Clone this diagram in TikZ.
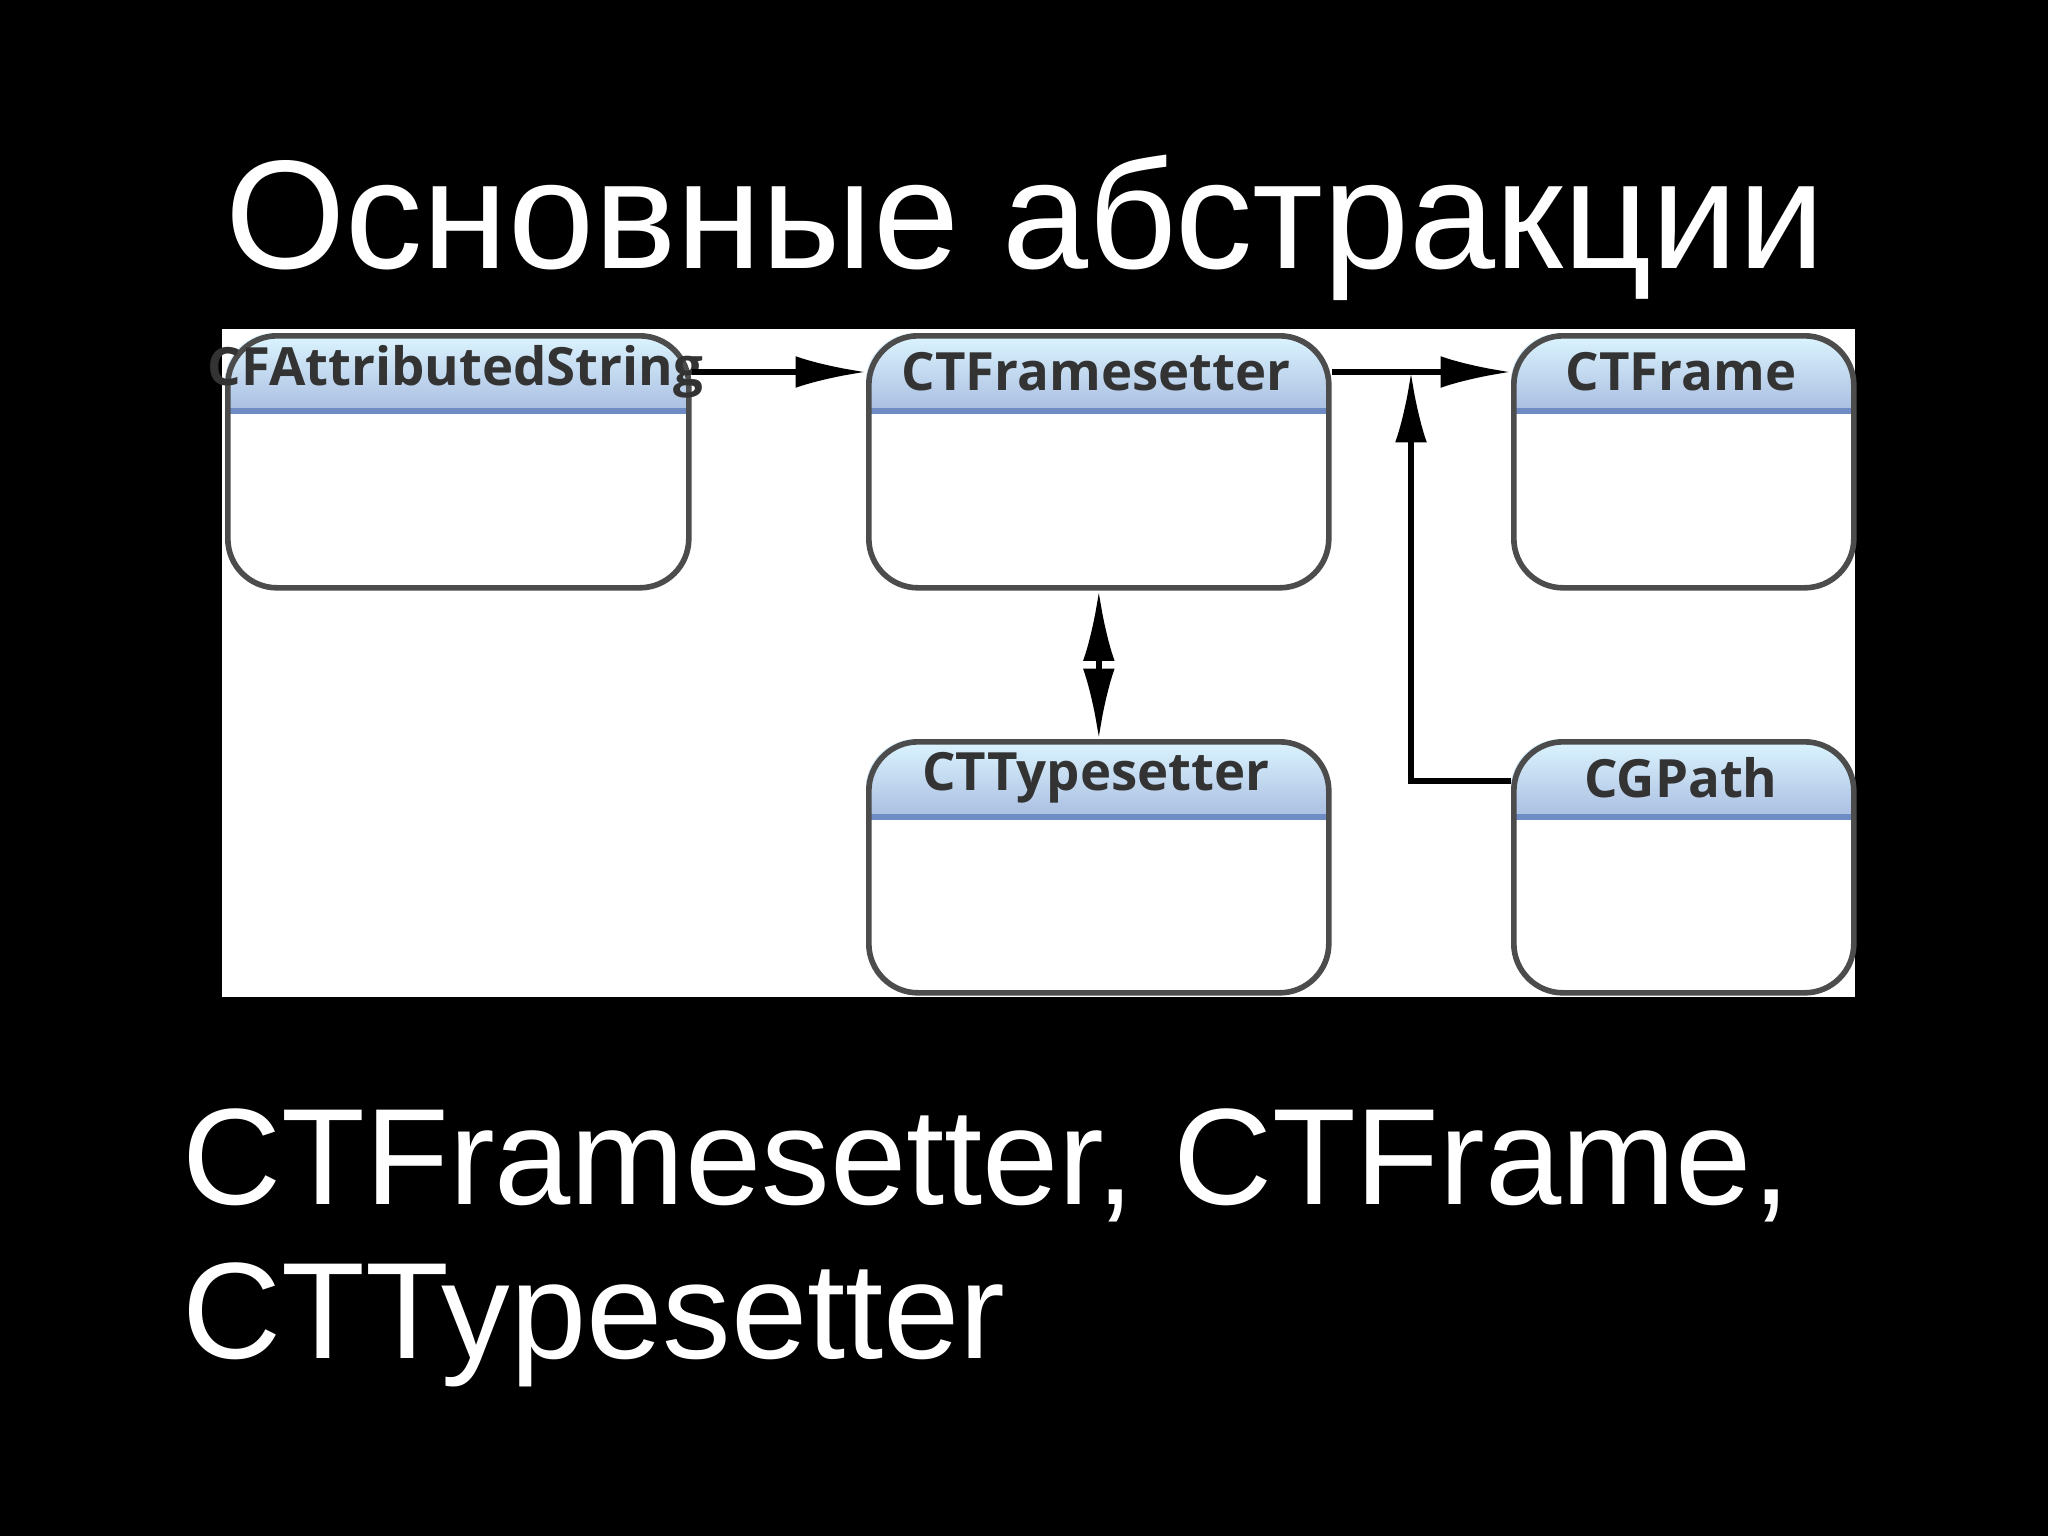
\documentclass[tikz,border=0pt]{standalone}
\usepackage{fontspec}
\setmainfont{Liberation Sans}
\newfontfamily\boxfont{Open Sans}
\usetikzlibrary{arrows.meta}
\tikzset{
  cls/.style={draw=black!70,line width=1.6pt,rounded corners=14pt,inner sep=0pt},
  hdr/.style={top color=blue!4!white!90!cyan,bottom color={rgb,255:red,170;green,190;blue,225}},
  lbl/.style={font=\boxfont\bfseries\fontsize{15}{18}\selectfont,text=black!80},
  conn/.style={line width=1.6pt,-{Latex[length=20pt,width=9pt]}},
  conn2/.style={line width=1.6pt,{Latex[length=20pt,width=9pt]}-{Latex[length=20pt,width=9pt]}},
}
\newcommand{\classbox}[6]{% name, x1, y1, x2, y2, label
  \begin{scope}
    \clip[rounded corners=14pt] (#2,#3) rectangle (#4,#5);
    \shade[hdr] (#2,#3) rectangle (#4,#3+78);
    \draw[line width=1.5pt,color={rgb,255:red,110;green,140;blue,195}] (#2,#3+78) -- (#4,#3+78);
  \end{scope}
  \node[cls,fit/.style={},minimum width={(#4-#2)*0.01cm},minimum height={(#5-#3)*0.01cm},anchor=north west] (#1) at (#2,#3) {};
  \node[lbl] (#1-t) at ({(#2+#4)/2},#3+39) {#6};
}
\begin{document}
\begin{tikzpicture}[x=0.01cm,y=-0.01cm]
\fill[black] (0,0) rectangle (2048,1536);
\useasboundingbox (0,0) rectangle (2048,1536);
\node[text=white,font=\fontsize{44}{50}\selectfont,anchor=base] (title) at (1025,268) {Основные абстракции};
\fill[white] (222,329) rectangle (1855,997);
\classbox{cfas}{225}{333}{686}{585}{CFAttributedString}
\classbox{ctfs}{866}{333}{1326}{585}{CTFramesetter}
\classbox{ctf}{1511}{333}{1851}{585}{CTFrame}
\classbox{ctts}{866}{739}{1326}{990}{CTTypesetter}
\classbox{cgp}{1511}{739}{1851}{990}{CGPath}
\coordinate (j) at (1411,781);
\draw[conn] (cfas.north east |- cfas-t) -- (ctfs.north west |- cfas-t);
\draw[conn] (ctfs.north east |- ctf-t) -- (ctf.north west |- ctf-t);
\draw[conn] (cgp.north west |- j) -- (j) -- (j |- ctf-t);
\draw[conn2] (ctfs.south) -- (ctts.north);
\node[text=white,font=\fontsize{39}{45}\selectfont,anchor=base west] (b1) at (170,1204) {CTFramesetter, CTFrame,};
\node[text=white,font=\fontsize{39}{45}\selectfont,anchor=base west] (b2) at (170,1358) {CTTypesetter};
\end{tikzpicture}
\end{document}
